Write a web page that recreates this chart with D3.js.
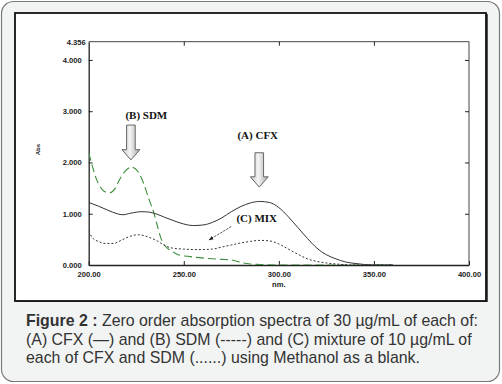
<!DOCTYPE html>
<html>
<head>
<meta charset="utf-8">
<script src="https://cdn.jsdelivr.net/npm/d3@7"></script>
<style>
  html, body { margin: 0; padding: 0; background: #fff; }
  svg { display: block; }
</style>
</head>
<body>
<svg id="chart" width="502" height="384"></svg>
<script>
'use strict';

// wavelength (nm) / absorbance pairs
var cfxNm  = [200, 205, 210, 215, 218, 222, 228, 232, 236, 240, 245, 250, 255, 260, 265, 270, 275, 280, 285, 290, 295, 300, 305, 310, 315, 320, 325, 330, 335, 340, 345, 350, 360];
var cfxAbs = [1.22, 1.15, 1.07, 1.00, 0.98, 1.01, 1.04, 1.03, 0.99, 0.93, 0.86, 0.80, 0.77, 0.78, 0.83, 0.92, 1.04, 1.14, 1.21, 1.24, 1.22, 1.12, 0.94, 0.73, 0.52, 0.33, 0.20, 0.12, 0.06, 0.03, 0.01, 0.00, 0.00];

var sdmNm  = [200, 202, 204, 206, 208, 211, 214, 216, 219, 222.5, 226, 229, 232, 234, 236, 238, 240, 242, 245, 248, 252, 256, 262, 270, 275, 280, 285, 290, 300, 360];
var sdmAbs = [2.19, 1.92, 1.68, 1.53, 1.44, 1.41, 1.50, 1.65, 1.82, 1.91, 1.82, 1.58, 1.25, 1.05, 0.78, 0.52, 0.38, 0.31, 0.24, 0.19, 0.17, 0.15, 0.13, 0.11, 0.10, 0.05, 0.02, 0.01, 0.00, 0.00];

var mixNm  = [200, 202, 205, 209, 213, 217, 221, 226, 231, 236, 240, 244, 250, 258, 265, 270, 275, 280, 285, 290, 295, 300, 305, 310, 315, 320, 325, 330, 340, 360];
var mixAbs = [0.66, 0.53, 0.46, 0.42, 0.42, 0.48, 0.55, 0.59, 0.55, 0.47, 0.38, 0.33, 0.31, 0.30, 0.31, 0.35, 0.39, 0.43, 0.46, 0.48, 0.47, 0.41, 0.31, 0.21, 0.12, 0.07, 0.04, 0.02, 0.00, 0.00];

var xTicks = [200, 250, 300, 350, 400];
var yTicks = [0, 1, 2, 3, 4];
var yMax = 4.356;

var captionLines = [
  [['Figure 2 :', true], [' Zero order absorption spectra of 30 µg/mL of each of:', false]],
  [['(A) CFX (\u2014) and (B) SDM (-----) and (C) mixture of 10 µg/mL of', false]],
  [['each of CFX and SDM (......) using Methanol as a blank.', false]]
];

var svg = d3.select('#chart');

// card background
svg.append('rect')
  .attr('x', 1.5).attr('y', 1.5)
  .attr('width', 498).attr('height', 380)
  .attr('rx', 12).attr('ry', 12)
  .attr('fill', '#f2f4f3')
  .attr('stroke', '#7a7a7a')
  .attr('stroke-width', 1.2);

// figure frame
svg.append('rect')
  .attr('x', 17).attr('y', 14)
  .attr('width', 471).attr('height', 288)
  .attr('fill', '#555');
svg.append('rect')
  .attr('x', 15).attr('y', 13)
  .attr('width', 471).attr('height', 288)
  .attr('fill', '#fff')
  .attr('stroke', '#111')
  .attr('stroke-width', 1.8);

var PLOT = { left: 88.7, right: 469, top: 41.7, bottom: 265 };

var x = d3.scaleLinear().domain([200, 400]).range([PLOT.left, PLOT.right]);
var y = d3.scaleLinear().domain([0, yMax]).range([PLOT.bottom, PLOT.top]);

var g = svg.append('g');

// top / right frame
g.append('path')
  .attr('d', 'M' + PLOT.left + ',' + PLOT.top + 'H' + PLOT.right + 'V' + PLOT.bottom)
  .attr('fill', 'none')
  .attr('stroke', '#444')
  .attr('stroke-width', 1);

var fmt = d3.format('.3f');
var fmtX = d3.format('.2f');

function styleAxis(sel, showText) {
  sel.select('.domain').attr('stroke', '#222').attr('stroke-width', 1.3);
  sel.selectAll('.tick line').attr('stroke', '#222');
  sel.selectAll('.tick text')
    .attr('fill', '#222')
    .style('font-family', 'Liberation Sans, Arial, sans-serif')
    .style('font-size', '7.6px')
    .style('font-weight', 'bold')
    .style('display', showText ? null : 'none');
}

// bottom axis
g.append('g')
  .attr('transform', 'translate(0,' + PLOT.bottom + ')')
  .call(d3.axisBottom(x).tickValues(xTicks).tickSizeInner(-4).tickSizeOuter(0).tickPadding(7).tickFormat(fmtX))
  .call(styleAxis, true);

// top axis
g.append('g')
  .attr('transform', 'translate(0,' + PLOT.top + ')')
  .call(d3.axisTop(x).tickValues(xTicks.slice(1, 4)).tickSizeInner(-4).tickSizeOuter(0).tickFormat(''))
  .call(styleAxis, false)
  .select('.domain').remove();

// left axis
var yLeft = g.append('g')
  .attr('transform', 'translate(' + PLOT.left + ',0)')
  .call(d3.axisLeft(y).tickValues(yTicks.concat([yMax])).tickSizeInner(-4).tickSizeOuter(0).tickPadding(7).tickFormat(fmt))
  .call(styleAxis, true);
yLeft.selectAll('.tick').filter(function(d) { return d === yMax; }).select('line').remove();
yLeft.selectAll('.tick').filter(function(d) { return d === yMax; }).select('text').attr('x', -3);

// right axis
g.append('g')
  .attr('transform', 'translate(' + PLOT.right + ',0)')
  .call(d3.axisRight(y).tickValues(yTicks.slice(1)).tickSizeInner(-4).tickSizeOuter(0).tickFormat(''))
  .call(styleAxis, false)
  .select('.domain').remove();

// axis titles
g.append('text')
  .attr('transform', 'translate(40,' + y(2.25) + ') rotate(-90)')
  .attr('text-anchor', 'middle')
  .attr('fill', '#222')
  .style('font-family', 'Liberation Sans, Arial, sans-serif')
  .style('font-size', '6px')
  .style('font-weight', 'bold')
  .text('Abs');

g.append('text')
  .attr('x', x(300)).attr('y', PLOT.bottom + 22)
  .attr('text-anchor', 'middle')
  .attr('fill', '#222')
  .style('font-family', 'Liberation Sans, Arial, sans-serif')
  .style('font-size', '7.6px')
  .style('font-weight', 'bold')
  .text('nm.');

// spectra
var line = d3.line()
  .x(function(d) { return x(d[0]); })
  .y(function(d) { return y(d[1]); })
  .curve(d3.curveMonotoneX);

function pairs(a, b) { return a.map(function(v, i) { return [v, b[i]]; }); }

svg.append('clipPath').attr('id', 'clip')
  .append('rect')
  .attr('x', PLOT.left).attr('y', PLOT.top)
  .attr('width', PLOT.right - PLOT.left).attr('height', PLOT.bottom - PLOT.top);

var curves = g.append('g').attr('clip-path', 'url(#clip)');

curves.append('path')
  .datum(pairs(sdmNm, sdmAbs))
  .attr('d', line)
  .attr('fill', 'none')
  .attr('stroke', '#3d8f3d')
  .attr('stroke-width', 1.1)
  .attr('stroke-dasharray', '8,4');

curves.append('path')
  .datum(pairs(mixNm, mixAbs))
  .attr('d', line)
  .attr('fill', 'none')
  .attr('stroke', '#333')
  .attr('stroke-width', 1)
  .attr('stroke-dasharray', '2,2');

curves.append('path')
  .datum(pairs(cfxNm, cfxAbs))
  .attr('d', line)
  .attr('fill', 'none')
  .attr('stroke', '#333')
  .attr('stroke-width', 1);

// annotations
var defs = svg.append('defs');
var grad = defs.append('linearGradient').attr('id', 'arrowFill')
  .attr('x1', '0').attr('x2', '1').attr('y1', '0').attr('y2', '0');
grad.append('stop').attr('offset', '0%').attr('stop-color', '#c8c8c8');
grad.append('stop').attr('offset', '45%').attr('stop-color', '#f4f4f4');
grad.append('stop').attr('offset', '100%').attr('stop-color', '#a8a8a8');

function blockArrow(nm, top, neck, tip) {
  var cx = x(nm), shaft = 4.3, head = 9;
  var pts = [
    [cx - shaft, y(top)], [cx + shaft, y(top)], [cx + shaft, y(neck)],
    [cx + head, y(neck)], [cx, y(tip)], [cx - head, y(neck)], [cx - shaft, y(neck)]
  ];
  g.append('path')
    .attr('d', d3.line()(pts) + 'Z')
    .attr('fill', 'url(#arrowFill)')
    .attr('stroke', '#666')
    .attr('stroke-width', 1);
}

function label(nm, abs, txt, anchor) {
  g.append('text')
    .attr('x', x(nm)).attr('y', y(abs))
    .attr('text-anchor', anchor)
    .attr('fill', '#111')
    .style('font-family', 'Liberation Serif, Times New Roman, serif')
    .style('font-size', '11px')
    .style('font-weight', 'bold')
    .text(txt);
}

label(230.3, 2.85, '(B) SDM', 'middle');
blockArrow(222.2, 2.73, 2.25, 2.05);

label(288.9, 2.46, '(A) CFX', 'middle');
blockArrow(289.7, 2.19, 1.72, 1.52);

label(277.7, 0.84, '(C) MIX', 'start');

defs.append('marker')
  .attr('id', 'tipHead')
  .attr('viewBox', '0 0 10 10')
  .attr('refX', 9).attr('refY', 5)
  .attr('markerWidth', 6).attr('markerHeight', 6)
  .attr('orient', 'auto')
  .append('path')
  .attr('d', 'M0,1L10,5L0,9Z')
  .attr('fill', '#222');

g.append('line')
  .attr('x1', x(275)).attr('y1', y(0.75))
  .attr('x2', x(263.3)).attr('y2', y(0.49))
  .attr('stroke', '#333')
  .attr('stroke-width', 0.8)
  .attr('stroke-dasharray', '2.5,1')
  .attr('marker-end', 'url(#tipHead)');

// caption
var cap = svg.append('text')
  .attr('fill', '#333')
  .style('font-family', 'Liberation Sans, Arial, sans-serif')
  .style('font-size', '15.9px');

captionLines.forEach(function(parts, i) {
  var t = cap.append('tspan').attr('x', 26).attr('y', 326 + i * 18.6);
  parts.forEach(function(p, j) {
    (j === 0 ? t : cap.append('tspan'))
      .style('font-weight', p[1] ? 'bold' : 'normal')
      .text(p[0]);
  });
});
</script>
</body>
</html>
